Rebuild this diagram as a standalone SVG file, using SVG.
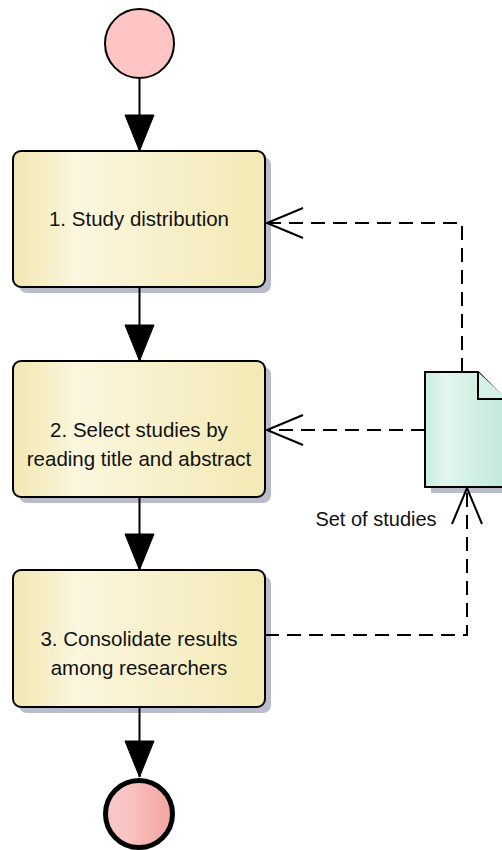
<svg xmlns="http://www.w3.org/2000/svg" width="502" height="850" viewBox="0 0 502 850">
  <style>
    .box { stroke: #000; stroke-width: 2; fill: url(#yellow); }
    .shadow { fill: #b9bdcb; stroke: none; }
    .lbl { font-family: "Liberation Sans", Arial, sans-serif; font-size: 20.5px; fill: #111; text-anchor: middle; }
    .note { font-family: "Liberation Sans", Arial, sans-serif; font-size: 20px; fill: #111; text-anchor: middle; }
    .flow { stroke: #000; stroke-width: 2; fill: none; }
    .dep { stroke: #000; stroke-width: 2; fill: none; stroke-dasharray: 14 8; }
  </style>
  <defs>
    <linearGradient id="yellow" x1="0" y1="0" x2="1" y2="0">
      <stop offset="0" stop-color="#f2e7b0"/>
      <stop offset="0.25" stop-color="#fbf6de"/>
      <stop offset="1" stop-color="#f3e9b4"/>
    </linearGradient>
    <linearGradient id="green" x1="0" y1="0" x2="1" y2="0">
      <stop offset="0" stop-color="#c9ecdf"/>
      <stop offset="0.25" stop-color="#e2f6ef"/>
      <stop offset="1" stop-color="#bfe8d8"/>
    </linearGradient>
    <linearGradient id="pink" x1="0" y1="0" x2="1" y2="0">
      <stop offset="0" stop-color="#f8c6c6"/>
      <stop offset="0.3" stop-color="#fac4c4"/>
      <stop offset="1" stop-color="#f1a49f"/>
    </linearGradient>
    <marker id="filled" markerUnits="userSpaceOnUse" viewBox="-38 -16 40 32" refX="0" refY="0" markerWidth="40" markerHeight="32" orient="auto">
      <path d="M0,0 L-36,-14.5 L-36,14.5 Z" fill="#000" stroke="#000" stroke-width="1" stroke-linejoin="miter"/>
    </marker>
    <marker id="open" markerUnits="userSpaceOnUse" viewBox="-40 -18 42 36" refX="0" refY="0" markerWidth="42" markerHeight="36" orient="auto">
      <path d="M-36,-15 L0,0 L-36,15" fill="none" stroke="#000" stroke-width="2" stroke-dasharray="none"/>
    </marker>
  </defs>

  <g id="start">
    <circle cx="139.5" cy="43.5" r="34.5" fill="#ffc4c4" stroke="#000" stroke-width="2"/>
  </g>

  <g id="step1">
    <rect class="shadow" x="19" y="157" width="252" height="136" rx="8"/>
    <rect class="box" x="13" y="151" width="252" height="136" rx="8"/>
    <text class="lbl" x="139" y="226">1. Study distribution</text>
  </g>

  <g id="step2">
    <rect class="shadow" x="19" y="367" width="252" height="136" rx="8"/>
    <rect class="box" x="13" y="361" width="252" height="136" rx="8"/>
    <text class="lbl" x="139" y="437">2. Select studies by</text>
    <text class="lbl" x="139" y="466">reading title and abstract</text>
  </g>

  <g id="step3">
    <rect class="shadow" x="19" y="576" width="252" height="137" rx="8"/>
    <rect class="box" x="13" y="570" width="252" height="137" rx="8"/>
    <text class="lbl" x="139" y="646">3. Consolidate results</text>
    <text class="lbl" x="139" y="675">among researchers</text>
  </g>

  <g id="end">
    <circle cx="139" cy="814" r="33.5" fill="url(#pink)" stroke="#000" stroke-width="5"/>
  </g>

  <g id="set-of-studies">
    <rect class="shadow" x="431" y="487" width="80" height="6"/>
    <path d="M425,372 H478 L507,401 V487 H425 Z" fill="url(#green)" stroke="#000" stroke-width="2"/>
    <path d="M478,372 V399 H507" fill="#d4f1e6" stroke="#000" stroke-width="2"/>
    <text class="note" x="376" y="526">Set of studies</text>
  </g>

  <g id="connectors">
    <line class="flow" x1="139.5" y1="78" x2="139.5" y2="151" marker-end="url(#filled)"/>
    <line class="flow" x1="139.5" y1="287" x2="139.5" y2="361" marker-end="url(#filled)"/>
    <line class="flow" x1="139.5" y1="497" x2="139.5" y2="570" marker-end="url(#filled)"/>
    <line class="flow" x1="139.5" y1="707" x2="139.5" y2="777" marker-end="url(#filled)"/>
    <path class="dep" d="M462,372 V223 H267" marker-end="url(#open)"/>
    <path class="dep" d="M425,430 H267" marker-end="url(#open)"/>
    <path class="dep" d="M265,635 H467 V488" marker-end="url(#open)"/>
  </g>
</svg>
